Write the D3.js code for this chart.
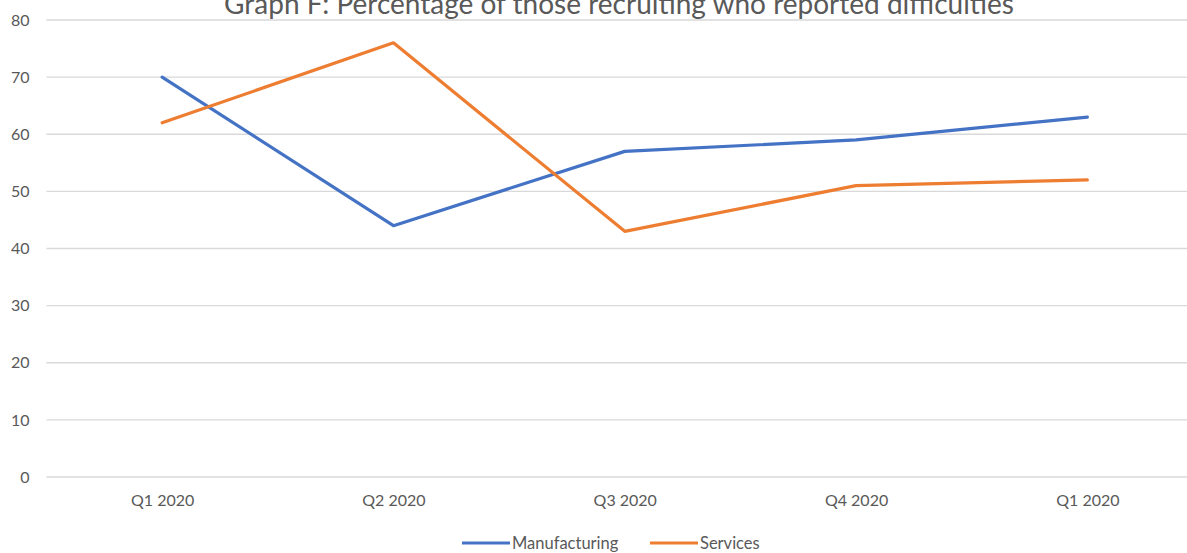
<!DOCTYPE html>
<html>
<head>
<meta charset="utf-8">
<script src="https://cdn.jsdelivr.net/npm/d3@7"></script>
<style>
  html, body { margin: 0; padding: 0; background: #ffffff; }
  svg { display: block; font-family: Lato, "Open Sans", sans-serif; }
</style>
</head>
<body>
<svg id="chart" width="1187" height="553"></svg>
<script>
// Quarterly survey results
const quarters = ["Q1 2020", "Q2 2020", "Q3 2020", "Q4 2020", "Q1 2020 "];
const quarterLabels = ["Q1 2020", "Q2 2020", "Q3 2020", "Q4 2020", "Q1 2020"];
const manufacturing = [70, 44, 57, 59, 63];
const services = [62, 76, 43, 51, 52];
const yTicks = [0, 10, 20, 30, 40, 50, 60, 70, 80];
const seriesNames = ["Manufacturing", "Services"];
const seriesColors = ["#4472C4", "#ED7D31"];
const titleText = "Graph F: Percentage of those recruiting who reported difficulties";

const svg = d3.select("#chart");
const textColor = "#595959";
const labelSize = "16px";

const plot = { left: 46.5, right: 1203, top: 20, bottom: 477 };

const x = d3.scalePoint()
  .domain(quarters)
  .range([plot.left, plot.right])
  .padding(0.5);

const y = d3.scaleLinear()
  .domain([0, 80])
  .range([plot.bottom, plot.top]);

// Horizontal gridlines
svg.append("g")
  .selectAll("line")
  .data(yTicks)
  .join("line")
  .attr("x1", plot.left)
  .attr("x2", plot.right)
  .attr("y1", d => y(d))
  .attr("y2", d => y(d))
  .attr("stroke", "#d9d9d9")
  .attr("stroke-width", 1.3);

// Y axis labels
const yAxis = svg.append("g")
  .attr("transform", `translate(${plot.left - 17},0)`)
  .call(d3.axisLeft(y).tickValues(yTicks).tickSize(0).tickPadding(0));
yAxis.select(".domain").remove();
yAxis.selectAll("text")
  .attr("fill", textColor)
  .style("font-size", labelSize)
  .style("font-family", "Lato, 'Open Sans', sans-serif");

// X axis labels
const xAxis = svg.append("g")
  .attr("transform", `translate(0,${plot.bottom})`)
  .call(d3.axisBottom(x).tickSize(0).tickPadding(18).tickFormat((d, i) => quarterLabels[i]));
xAxis.select(".domain").remove();
xAxis.selectAll("text")
  .attr("fill", textColor)
  .style("font-size", labelSize)
  .style("font-family", "Lato, 'Open Sans', sans-serif");

// Series lines
const line = d3.line()
  .x((d, i) => x(quarters[i]))
  .y(d => y(d));

[manufacturing, services].forEach((values, k) => {
  svg.append("path")
    .datum(values)
    .attr("d", line)
    .attr("fill", "none")
    .attr("stroke", seriesColors[k])
    .attr("stroke-width", 3.2)
    .attr("stroke-linejoin", "round")
    .attr("stroke-linecap", "round");
});

// Title
svg.append("text")
  .attr("x", 619)
  .attr("y", 14)
  .attr("text-anchor", "middle")
  .attr("fill", textColor)
  .style("font-size", "28px")
  .text(titleText);

// Legend
const legendY = 543;
const legendItems = [
  { x0: 462, x1: 510 },
  { x0: 650, x1: 698 }
];
legendItems.forEach((item, k) => {
  svg.append("line")
    .attr("x1", item.x0).attr("x2", item.x1)
    .attr("y1", legendY).attr("y2", legendY)
    .attr("stroke", seriesColors[k])
    .attr("stroke-width", 3.2);
  svg.append("text")
    .attr("x", item.x1 + 2)
    .attr("y", legendY)
    .attr("dy", "0.35em")
    .attr("fill", textColor)
    .style("font-size", "16.5px")
    .text(seriesNames[k]);
});
</script>
</body>
</html>
